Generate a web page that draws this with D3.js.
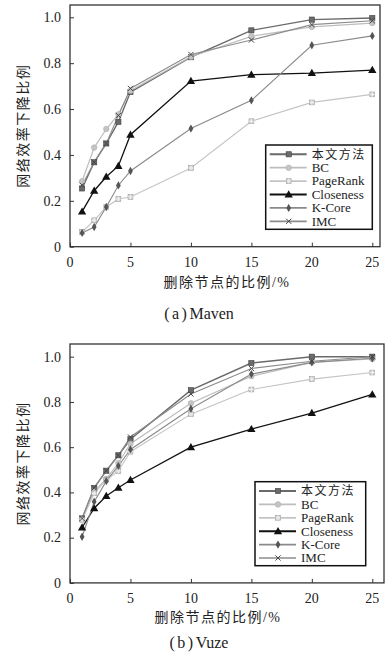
<!DOCTYPE html>
<html lang="zh">
<head>
<meta charset="UTF-8">
<script src="https://cdn.jsdelivr.net/npm/d3@7"></script>
<style>
    body { margin: 0; background: #fff; }
    svg { display: block; }
    text { font-family: "Liberation Serif", "Noto Sans CJK SC", serif; fill: #222; }
    .cjk { font-family: "Noto Sans CJK SC", sans-serif; }
</style>
</head>
<body>
<div id="chart"></div>
<script>
    // ---------- data ----------
    const xValues = [1, 2, 3, 4, 5, 10, 15, 20, 25];
    const xTicks = [0, 5, 10, 15, 20, 25];
    const yTicks = [0, 0.2, 0.4, 0.6, 0.8, 1.0];
    const seriesNames = ["本文方法", "BC", "PageRank", "Closeness", "K-Core", "IMC"];

    // (a) Maven
    const mavenMethod    = [0.254, 0.368, 0.450, 0.544, 0.674, 0.826, 0.943, 0.990, 0.997];
    const mavenBC        = [0.285, 0.432, 0.513, 0.577, 0.680, 0.828, 0.917, 0.958, 0.975];
    const mavenPageRank  = [0.064, 0.115, 0.173, 0.208, 0.217, 0.343, 0.547, 0.629, 0.664];
    const mavenCloseness = [0.153, 0.244, 0.305, 0.352, 0.488, 0.722, 0.750, 0.757, 0.770];
    const mavenKCore     = [0.060, 0.086, 0.173, 0.267, 0.330, 0.515, 0.638, 0.878, 0.919];
    const mavenIMC       = [0.268, 0.368, 0.450, 0.572, 0.690, 0.838, 0.901, 0.968, 0.985];

    // (b) Vuze
    const vuzeMethod    = [0.285, 0.420, 0.496, 0.564, 0.635, 0.852, 0.972, 1.000, 1.000];
    const vuzeBC        = [0.280, 0.405, 0.460, 0.530, 0.615, 0.794, 0.914, 0.975, 0.990];
    const vuzePageRank  = [0.280, 0.396, 0.455, 0.495, 0.580, 0.746, 0.855, 0.901, 0.930];
    const vuzeCloseness = [0.245, 0.330, 0.384, 0.421, 0.455, 0.600, 0.680, 0.751, 0.833];
    const vuzeKCore     = [0.204, 0.359, 0.450, 0.517, 0.590, 0.770, 0.923, 0.975, 0.993];
    const vuzeIMC       = [0.285, 0.420, 0.496, 0.564, 0.645, 0.835, 0.948, 0.980, 1.000];

    // ---------- styles per series ----------
    const styles = [
        { color: "#6a6a6a", marker: "square",   fill: "#6a6a6a", mstroke: "#444", width: 1.4 },
        { color: "#bdbdbd", marker: "circle",   fill: "#c4c4c4", mstroke: "#aaa", width: 1.2 },
        { color: "#c4c4c4", marker: "hatch",    fill: "#d6d6d6", mstroke: "#999", width: 1.1 },
        { color: "#111111", marker: "triangle", fill: "#111",    mstroke: "#111", width: 1.3 },
        { color: "#8a8a8a", marker: "diamond",  fill: "#555",    mstroke: "#444", width: 1.1 },
        { color: "#8c8c8c", marker: "times",    fill: "none",    mstroke: "#444", width: 1.1 }
    ];

    const svg = d3.select("#chart").append("svg")
        .attr("width", 390)
        .attr("height", 658);

    function drawMarker(g, type, x, y, st) {
        if (type === "square") {
            g.append("rect").attr("x", x - 2.6).attr("y", y - 2.6)
                .attr("width", 5.2).attr("height", 5.2)
                .attr("fill", st.fill).attr("stroke", st.mstroke).attr("stroke-width", 0.6);
        } else if (type === "circle") {
            g.append("circle").attr("cx", x).attr("cy", y).attr("r", 2.8)
                .attr("fill", st.fill).attr("stroke", st.mstroke).attr("stroke-width", 0.5);
        } else if (type === "hatch") {
            g.append("rect").attr("x", x - 2.4).attr("y", y - 2.4)
                .attr("width", 4.8).attr("height", 4.8)
                .attr("fill", st.fill).attr("stroke", st.mstroke).attr("stroke-width", 0.6);
            g.append("path")
                .attr("d", `M${x - 2.4},${y}H${x + 2.4}M${x},${y - 2.4}V${y + 2.4}`)
                .attr("stroke", "#f2f2f2").attr("stroke-width", 0.9);
        } else if (type === "triangle") {
            g.append("path")
                .attr("d", d3.symbol().type(d3.symbolTriangle).size(30)())
                .attr("transform", `translate(${x},${y + 0.6})`)
                .attr("fill", st.fill);
        } else if (type === "diamond") {
            g.append("path")
                .attr("d", d3.symbol().type(d3.symbolDiamond).size(20)())
                .attr("transform", `translate(${x},${y})`)
                .attr("fill", st.fill);
        } else if (type === "times") {
            const s = 2.6;
            g.append("path")
                .attr("d", `M${x - s},${y - s}L${x + s},${y + s}M${x - s},${y + s}L${x + s},${y - s}`)
                .attr("stroke", st.mstroke).attr("stroke-width", 1);
        }
    }

    function drawPanel(cfg) {
        const g = svg.append("g");
        const x = d3.scaleLinear().domain([0, 25]).range([70, 372.3]);
        const y = d3.scaleLinear().domain([0, 1]).range([cfg.y0, cfg.y1]);

        // frame
        g.append("rect")
            .attr("x", 70).attr("y", cfg.top)
            .attr("width", cfg.right - 70).attr("height", cfg.y0 - cfg.top)
            .attr("fill", "none").attr("stroke", "#333").attr("stroke-width", 1.3);

        // x axis (ticks inward)
        const xAxis = g.append("g")
            .attr("transform", `translate(0,${cfg.y0})`)
            .call(d3.axisTop(x).tickValues(xTicks).tickSize(4).tickFormat(""));
        xAxis.select(".domain").remove();
        xAxis.selectAll("line").attr("stroke", "#333");
        g.selectAll(null).data(xTicks).enter().append("text")
            .attr("x", d => x(d)).attr("y", cfg.y0 + 20)
            .attr("text-anchor", "middle")
            .attr("font-size", 14)
            .text(d => d);

        // y axis (ticks inward)
        const yAxis = g.append("g")
            .attr("transform", "translate(70,0)")
            .call(d3.axisRight(y).tickValues(yTicks).tickSize(4).tickFormat(""));
        yAxis.select(".domain").remove();
        yAxis.selectAll("line").attr("stroke", "#333");
        g.selectAll(null).data(yTicks).enter().append("text")
            .attr("x", 61).attr("y", d => y(d) + 4.8)
            .attr("text-anchor", "end")
            .attr("font-size", 14)
            .text(d => d === 0 ? "0" : d.toFixed(1));

        // lines and markers
        const line = d3.line().x(d => x(d[0])).y(d => y(d[1]));
        cfg.series.forEach((vals, i) => {
            const pts = xValues.map((xv, j) => [xv, vals[j]]);
            g.append("path").datum(pts)
                .attr("d", line)
                .attr("fill", "none")
                .attr("stroke", styles[i].color)
                .attr("stroke-width", styles[i].width);
        });
        cfg.series.forEach((vals, i) => {
            const mg = g.append("g");
            xValues.forEach((xv, j) => drawMarker(mg, styles[i].marker, x(xv), y(vals[j]), styles[i]));
        });

        // legend
        const lg = g.append("g");
        lg.append("rect")
            .attr("x", cfg.legend.x).attr("y", cfg.legend.y)
            .attr("width", cfg.legend.w).attr("height", cfg.legend.h)
            .attr("fill", "#fff").attr("stroke", "#111").attr("stroke-width", 1.5);
        seriesNames.forEach((name, i) => {
            const ly = cfg.legend.y + 9.3 + i * 13.4;
            const lx = cfg.legend.x + 4;
            lg.append("line")
                .attr("x1", lx).attr("x2", lx + 37)
                .attr("y1", ly).attr("y2", ly)
                .attr("stroke", styles[i].color)
                .attr("stroke-width", styles[i].width + 0.6);
            drawMarker(lg, styles[i].marker, lx + 19, ly, styles[i]);
            lg.append("text")
                .attr("class", i === 0 ? "cjk" : null)
                .attr("x", lx + 42).attr("y", ly + 4.3)
                .attr("font-size", i === 0 ? 12 : 13)
                .attr("letter-spacing", i === 0 ? 1.5 : 0)
                .text(name);
        });

        // axis titles
        g.append("text")
            .attr("class", "cjk")
            .attr("transform", `translate(22,${(cfg.y0 + cfg.top) / 2}) rotate(-90)`)
            .attr("text-anchor", "middle")
            .attr("dominant-baseline", "central")
            .attr("font-size", 14)
            .attr("letter-spacing", 1.5)
            .text("网络效率下降比例");
        g.append("text")
            .attr("x", cfg.xLabelX).attr("y", cfg.xLabelY)
            .attr("text-anchor", "middle")
            .attr("font-size", 14)
            .attr("letter-spacing", 1.5)
            .html('<tspan class="cjk">删除节点的比例</tspan><tspan>/%</tspan>');

        // caption
        g.append("text")
            .attr("x", cfg.captionX).attr("y", cfg.captionY)
            .attr("text-anchor", "middle")
            .attr("font-size", 16)
            .html(`<tspan letter-spacing="2.5">(${cfg.captionTag})</tspan><tspan>${cfg.caption}</tspan>`);
    }

    drawPanel({
        top: 5, right: 380, y0: 246.7, y1: 17.3,
        series: [mavenMethod, mavenBC, mavenPageRank, mavenCloseness, mavenKCore, mavenIMC],
        legend: { x: 265.7, y: 145, w: 106.6, h: 84.3 },
        xLabelX: 227, xLabelY: 287,
        captionX: 199, captionY: 318.5, captionTag: "a", caption: "Maven"
    });

    drawPanel({
        top: 344, right: 384, y0: 582.9, y1: 356.7,
        series: [vuzeMethod, vuzeBC, vuzePageRank, vuzeCloseness, vuzeKCore, vuzeIMC],
        legend: { x: 255, y: 481.7, w: 110.7, h: 84 },
        xLabelX: 218, xLabelY: 622,
        captionX: 199, captionY: 647.5, captionTag: "b", caption: "Vuze"
    });
</script>
</body>
</html>
